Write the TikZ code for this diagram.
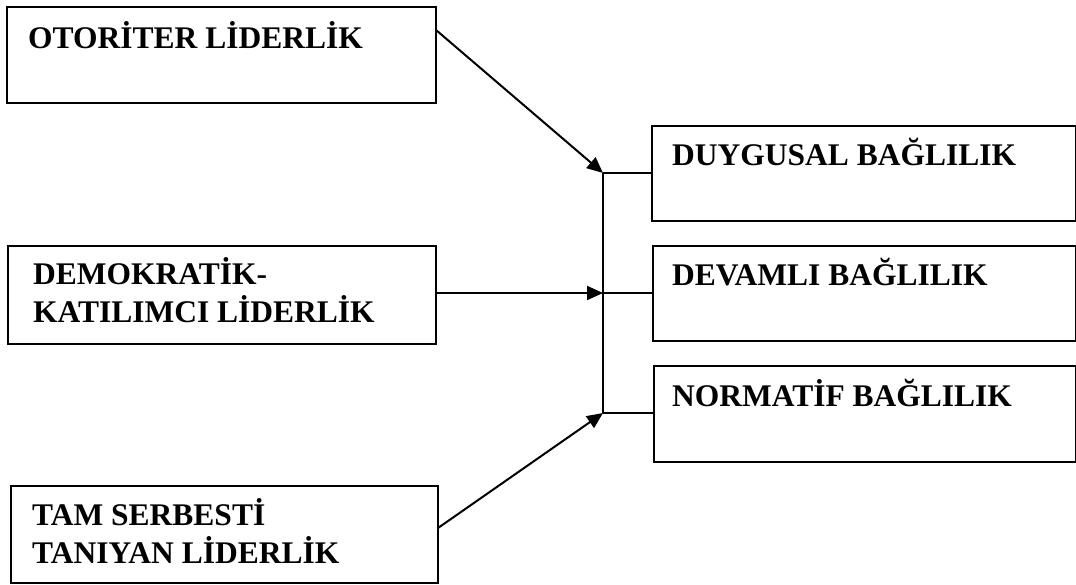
\documentclass[tikz,border=0pt]{standalone}
\usepackage{fontspec}
\setmainfont{Liberation Serif}
\usetikzlibrary{arrows.meta}
\begin{document}
\begin{tikzpicture}[x=1pt,y=-1pt,
  box/.style={draw=black,line width=2.2pt,rectangle,inner sep=0pt,anchor=north west},
  lbl/.style={inner sep=0pt,anchor=base west,align=left,font=\fontsize{31.5}{38}\selectfont\bfseries},
  conn/.style={draw=black,line width=2pt},
  arr/.style={conn,-{Triangle[length=16pt,width=14pt]}}]
\useasboundingbox[fill=white] (0,0) rectangle (1076,584);
% left boxes
\node[box,minimum width=429pt,minimum height=96pt] (a) at (6,6) {};
\node[lbl] (ta) at (28,48) {OTORİTER LİDERLİK};
\node[box,minimum width=428pt,minimum height=98pt] (b) at (7,245) {};
\node[lbl] (tb) at (33,322) {DEMOKRATİK-\\KATILIMCI LİDERLİK};
\node[box,minimum width=427pt,minimum height=97pt] (c) at (10,485) {};
\node[lbl] (tc) at (32,563) {TAM SERBESTİ\\TANIYAN LİDERLİK};
% right boxes
\node[box,minimum width=424pt,minimum height=95pt] (d) at (651,125) {};
\node[lbl] (td) at (672,165) {DUYGUSAL BAĞLILIK};
\node[box,minimum width=423pt,minimum height=95pt] (e) at (652,245) {};
\node[lbl] (te) at (672,285) {DEVAMLI BAĞLILIK};
\node[box,minimum width=422pt,minimum height=96pt] (f) at (653,365) {};
\node[lbl] (tf) at (672,406) {NORMATİF BAĞLILIK};
% junction points
\coordinate (j1) at (603,173);
\coordinate (j2) at (603,293);
\coordinate (j3) at (603,413);
\coordinate (s1) at (436,30);
\coordinate (s3) at (438,528);
% connectors
\draw[conn] (j1) -- (j3);
\draw[conn] (j1) -- (d.west |- j1);
\draw[conn] (j2) -- (e.west |- j2);
\draw[conn] (j3) -- (f.west |- j3);
\draw[arr] (s1) -- (j1);
\draw[arr] (b.east |- j2) -- (j2);
\draw[arr] (s3) -- (j3);
\end{tikzpicture}
\end{document}
